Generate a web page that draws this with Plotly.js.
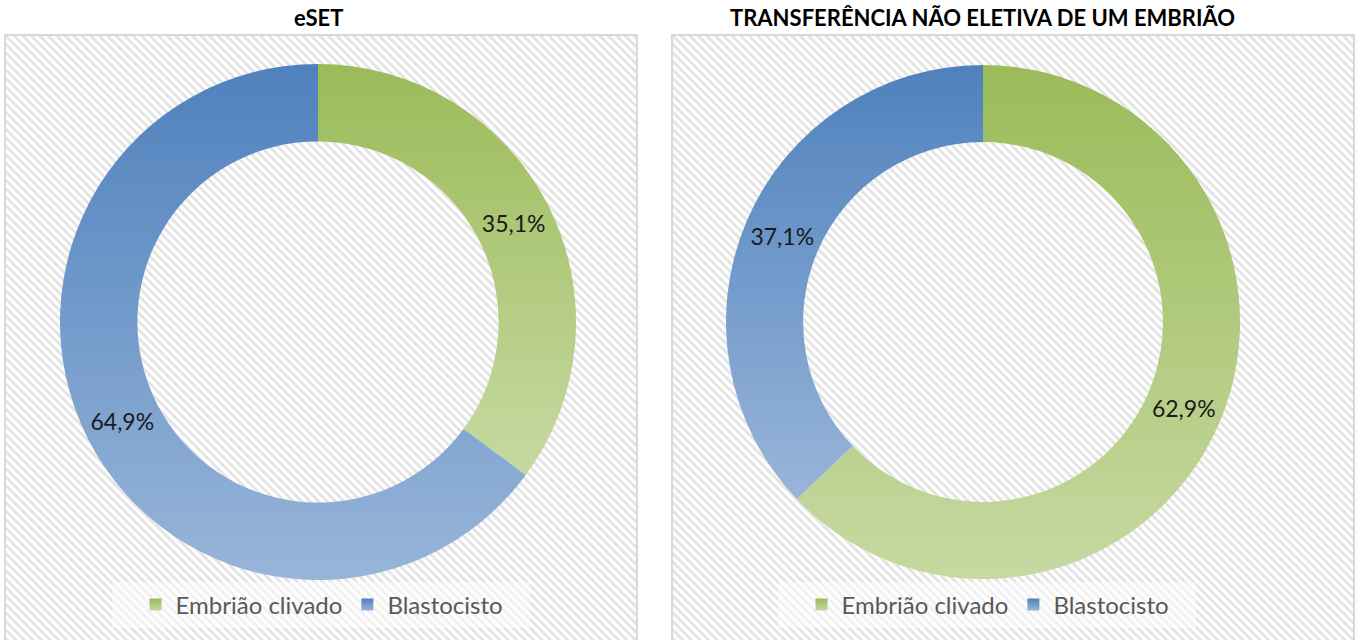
<!DOCTYPE html>
<html>
<head>
<meta charset="utf-8">
<script src="https://cdn.plot.ly/plotly-3.0.1.min.js"></script>
<style>html,body{margin:0;padding:0;background:#fff;}#chart{width:1362px;height:640px;}</style>
</head>
<body>
<div id="chart"></div>
<script>
const categories = ['Embrião clivado', 'Blastocisto'];
const esetValues = [35.1, 64.9];
const naoEletivaValues = [62.9, 37.1];
const panelTitles = ['eSET', 'TRANSFERÊNCIA NÃO ELETIVA DE UM EMBRIÃO'];
const sliceColors = ['#9bbb59', '#4f81bd'];

const W = 1362, H = 640;
const px = v => v / W;
const py = v => 1 - v / H;

const hatch = (xa, ya) => ({
  type: 'bar', x: [0], y: [1], width: [1], xaxis: xa, yaxis: ya,
  hoverinfo: 'skip', showlegend: false,
  marker: {color: '#ffffff', line: {width: 0},
    pattern: {shape: '\\', fgcolor: '#e2e2e2', bgcolor: '#ffffff', size: 6, solidity: 0.45}}
});

const pieBase = {
  type: 'pie', sort: false, direction: 'clockwise', rotation: 0,
  hole: 0.7, textposition: 'inside', insidetextorientation: 'horizontal',
  texttemplate: '%{value:.1f}%', hoverinfo: 'label+percent',
  textfont: {family: 'Lato, sans-serif', size: 23, color: '#1a1a1a'},
  marker: {colors: sliceColors, line: {width: 0}}
};

// second panel gets its own legend entries (zero-width suffix keeps the text identical)
const data = [
  hatch('x', 'y'),
  hatch('x2', 'y2'),
  Object.assign({}, pieBase, {labels: categories, values: esetValues, name: panelTitles[0], legend: 'legend',
    domain: {x: [px(60), px(576)], y: [py(580), py(64)]}}),
  Object.assign({}, pieBase, {labels: categories.map(c => c + '\u200b'), values: naoEletivaValues,
    name: panelTitles[1], legend: 'legend2',
    domain: {x: [px(726), px(1240)], y: [py(580), py(64)]}})
];

const axX = d => ({domain: d, range: [-0.5, 0.5], visible: false, fixedrange: true});
const axY = {domain: [0, py(35)], range: [0, 1], visible: false, fixedrange: true};
const legendBase = {
  orientation: 'h', xanchor: 'center', yanchor: 'middle', y: py(605),
  bgcolor: 'rgba(0,0,0,0)', borderwidth: 0,
  font: {family: 'Lato, sans-serif', size: 24, color: '#595959'},
  itemclick: false, itemdoubleclick: false, tracegroupgap: 0
};

const layout = {
  width: W, height: H,
  margin: {l: 0, r: 0, t: 0, b: 0},
  paper_bgcolor: '#ffffff', plot_bgcolor: '#ffffff',
  separators: ',.',
  bargap: 0,
  showlegend: true,
  xaxis: axX([px(5), px(637)]), yaxis: axY,
  xaxis2: Object.assign(axX([px(672), px(1354)]), {anchor: 'y2'}),
  yaxis2: Object.assign({}, axY, {anchor: 'x2'}),
  legend: Object.assign({}, legendBase, {x: px(322)}),
  legend2: Object.assign({}, legendBase, {x: px(988)}),
  shapes: [
    {type: 'rect', xref: 'paper', yref: 'paper', x0: px(5), x1: px(637), y0: py(650), y1: py(35),
      line: {color: '#d9d9d9', width: 2}, fillcolor: 'rgba(0,0,0,0)', layer: 'above'},
    {type: 'rect', xref: 'paper', yref: 'paper', x0: px(672), x1: px(1354), y0: py(650), y1: py(35),
      line: {color: '#d9d9d9', width: 2}, fillcolor: 'rgba(0,0,0,0)', layer: 'above'},
    {type: 'rect', xref: 'paper', yref: 'paper', x0: px(112), x1: px(530), y0: py(628), y1: py(582),
      line: {width: 0}, fillcolor: 'rgba(255,255,255,0.5)', layer: 'above'},
    {type: 'rect', xref: 'paper', yref: 'paper', x0: px(778), x1: px(1196), y0: py(628), y1: py(582),
      line: {width: 0}, fillcolor: 'rgba(255,255,255,0.5)', layer: 'above'}
  ],
  annotations: [
    {text: '<b>' + panelTitles[0] + '</b>', xref: 'paper', yref: 'paper', x: px(318), y: py(17),
      xanchor: 'center', yanchor: 'middle', showarrow: false,
      font: {family: 'Lato, sans-serif', size: 22, color: '#000000'}},
    {text: '<b>' + panelTitles[1] + '</b>', xref: 'paper', yref: 'paper', x: px(983), y: py(17),
      xanchor: 'center', yanchor: 'middle', showarrow: false,
      font: {family: 'Lato, sans-serif', size: 22, color: '#000000'}}
  ]
};

const gradients = {
  '155,187,89': ['#9bbb59', '#c6d9a1', 'gradGreen'],
  '79,129,189': ['#4f81bd', '#98b5d9', 'gradBlue']
};

function applyGradients(gd) {
  const ns = 'http://www.w3.org/2000/svg';
  gd.querySelectorAll('svg.main-svg').forEach(svg => {
    let defs = svg.querySelector('defs');
    if (!defs) { defs = document.createElementNS(ns, 'defs'); svg.insertBefore(defs, svg.firstChild); }
    Object.values(gradients).forEach(([top, bottom, id]) => {
      if (svg.querySelector('#' + id)) return;
      const lg = document.createElementNS(ns, 'linearGradient');
      lg.setAttribute('id', id);
      lg.setAttribute('x1', '0'); lg.setAttribute('y1', '0'); lg.setAttribute('x2', '0'); lg.setAttribute('y2', '1');
      [[0, top], [1, bottom]].forEach(([o, c]) => {
        const s = document.createElementNS(ns, 'stop');
        s.setAttribute('offset', o); s.setAttribute('stop-color', c);
        lg.appendChild(s);
      });
      defs.appendChild(lg);
    });
  });
  gd.querySelectorAll('.pielayer path.surface, path.legendpie').forEach(p => {
    const f = (p.style.fill || p.getAttribute('fill') || '').replace(/\s/g, '');
    const m = f.match(/rgb\((\d+,\d+,\d+)\)/);
    if (m && gradients[m[1]]) {
      p.style.fill = 'url(#' + gradients[m[1]][2] + ')';
    }
  });
}

Plotly.newPlot('chart', data, layout, {displayModeBar: false, staticPlot: true}).then(gd => {
  applyGradients(gd);
  gd.on('plotly_afterplot', () => applyGradients(gd));
  setTimeout(() => applyGradients(gd), 50);
  setTimeout(() => applyGradients(gd), 300);
});
</script>
</body>
</html>
